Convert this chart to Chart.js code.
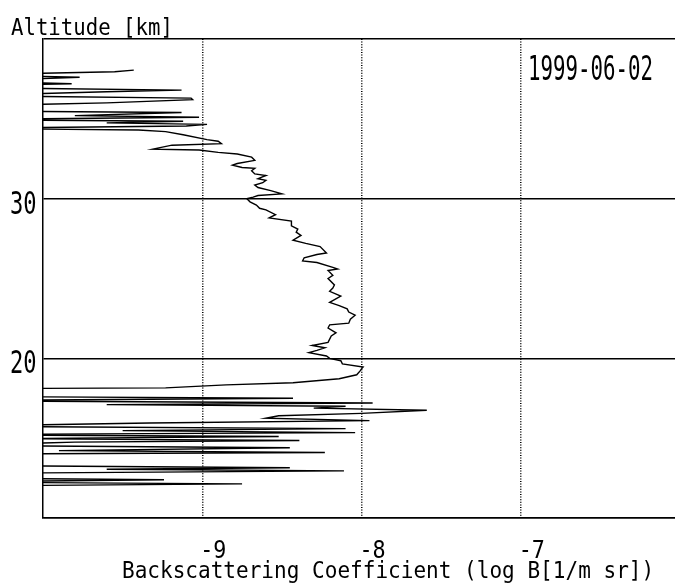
<!DOCTYPE html>
<html>
<head>
<meta charset="utf-8">
<script src="https://cdn.jsdelivr.net/npm/chart.js@4"></script>
<style>
  html, body { margin:0; padding:0; background:#fff; overflow:hidden; width:675px; height:585px; }
  canvas { display:block; }
</style>
</head>
<body>
<canvas id="profileChart" width="690" height="585"></canvas>
<script>
// altitude [km], bottom to top
const altitudes = [
  12.00, 12.14, 12.25, 12.40, 12.50, 12.80, 12.95, 13.05, 13.15, 13.30,
  14.00, 14.10, 14.22, 14.40, 14.55, 14.75, 14.85, 14.97, 15.10, 15.22,
  15.35, 15.47, 15.60, 15.75, 15.95, 16.10, 16.25, 16.40, 16.55, 16.75,
  16.88, 17.00, 17.10, 17.20, 17.35, 17.50, 17.62, 18.10, 18.15, 18.34,
  18.47, 18.72, 18.97, 19.20, 19.34, 19.45, 19.65, 19.85, 20.00, 20.15,
  20.36, 20.50, 20.66, 20.80, 21.00, 21.40, 21.60, 21.90, 22.10, 22.20,
  22.45, 22.70, 22.90, 23.10, 23.30, 23.50, 23.90, 24.20, 24.40, 24.60,
  25.00, 25.20, 25.50, 25.60, 25.70, 26.00, 26.10, 26.30, 26.50, 26.60,
  27.00, 27.20, 27.40, 27.70, 27.90, 28.10, 28.30, 28.60, 28.80, 29.00,
  29.30, 29.40, 29.60, 29.80, 30.00, 30.10, 30.20, 30.30, 30.50, 30.70,
  30.85, 31.00, 31.15, 31.25, 31.45, 31.55, 31.75, 31.90, 31.95, 32.10,
  32.20, 32.40, 32.60, 32.80, 32.90, 33.05, 33.10, 33.35, 33.45, 33.60,
  33.70, 34.00, 34.20, 34.30, 34.40, 34.55, 34.65, 34.75, 34.85, 34.95,
  35.10, 35.20, 35.40, 35.50, 35.80, 36.00, 36.20, 36.30, 36.45, 36.70,
  36.80, 36.95, 37.10, 37.20, 37.35, 37.60, 37.75, 37.95, 38.05
];
// log B [1/m sr]
const logB = [
  -10.6, -8.75, -10.6, -9.24, -10.6, -10.4, -8.11, -9.60, -8.45, -10.6,
  -10.6, -8.23, -9.90, -8.45, -10.6, -9.80, -8.39, -10.2, -8.52, -10.6,
  -8.04, -9.50, -8.10, -10.6, -9.33, -7.95, -8.60, -8.52, -8.00, -7.59,
  -8.30, -8.10, -9.60, -7.93, -10.6, -8.43, -10.6, -10.5, -9.23, -8.85,
  -8.43, -8.14, -8.03, -8.01, -8.00, -7.99, -8.12, -8.13, -8.20, -8.22,
  -8.33, -8.28, -8.23, -8.31, -8.21, -8.19, -8.16, -8.21, -8.20, -8.08,
  -8.07, -8.04, -8.08, -8.09, -8.14, -8.20, -8.13, -8.20, -8.18, -8.17,
  -8.21, -8.18, -8.21, -8.15, -8.18, -8.28, -8.37, -8.36, -8.28, -8.22,
  -8.26, -8.35, -8.43, -8.38, -8.41, -8.40, -8.44, -8.44, -8.58, -8.54,
  -8.60, -8.64, -8.66, -8.70, -8.72, -8.68, -8.65, -8.50, -8.57, -8.65,
  -8.67, -8.62, -8.60, -8.65, -8.60, -8.67, -8.69, -8.67, -8.75, -8.81,
  -8.78, -8.67, -8.69, -8.78, -8.90, -9.02, -9.31, -9.19, -8.88, -8.90,
  -8.97, -9.12, -9.23, -9.40, -10.5, -9.10, -8.97, -9.60, -9.12, -10.5,
  -9.02, -9.80, -9.13, -10.5, -10.5, -9.60, -9.06, -9.07, -10.5, -9.60,
  -9.13, -10.5, -10.3, -9.82, -10.5, -9.77, -10.5, -9.55, -9.43
];

const xTicks = [-9, -8, -7];
const yTicks = [20, 30];
const yFrame = [10, 20, 30, 40];
const dateLabel = '1999-06-02';
const yTitle = 'Altitude [km]';
const xTitle = 'Backscattering Coefficient (log B[1/m sr])';

const points = altitudes.map((a, i) => ({x: logB[i], y: a}));

// narrow plotter-like text: monospace font squeezed horizontally
function drawText(ctx, str, x, y, size, sx){
  ctx.save();
  ctx.translate(x, y);
  ctx.scale(sx, 1);
  ctx.font = size + 'px "DejaVu Sans Mono"';
  ctx.fillStyle = '#000';
  ctx.textBaseline = 'alphabetic';
  ctx.textAlign = 'left';
  ctx.fillText(str, 0, 0);
  ctx.restore();
}

const labelsPlugin = {
  id: 'labels',
  afterDraw(chart){
    const ctx = chart.ctx;
    const xs = chart.scales.x, ys = chart.scales.y;
    drawText(ctx, yTitle, 11, 35, 23.5, 0.88);
    yTicks.forEach(v => drawText(ctx, String(v), 10, ys.getPixelForValue(v) + 15, 31.5, 0.7));
    xTicks.forEach(v => drawText(ctx, String(v), xs.getPixelForValue(v) - 2, 558, 25, 0.87));
    drawText(ctx, xTitle, 122, 578, 23, 0.915);
    drawText(ctx, dateLabel, 528, 80, 34.3, 0.605);
  }
};

new Chart(document.getElementById('profileChart'), {
  type: 'scatter',
  data: {
    datasets: [{
      data: points,
      showLine: true,
      borderColor: '#000',
      borderWidth: 1.4,
      pointRadius: 0,
      tension: 0
    }]
  },
  options: {
    responsive: false,
    animation: false,
    layout: { padding: { left: 43, top: 39, right: 10, bottom: 67 } },
    plugins: { legend: { display: false }, tooltip: { enabled: false } },
    scales: {
      x: {
        type: 'linear', min: -10, max: -6,
        afterBuildTicks: s => { s.ticks = xTicks.map(v => ({value: v})); },
        ticks: { display: false },
        grid: { color: '#000', lineWidth: 1.5, drawTicks: false },
        border: { color: '#000', width: 1.5, dash: c => (c.tick ? [1, 1.6] : []) }
      },
      y: {
        type: 'linear', min: 10, max: 40,
        afterBuildTicks: s => { s.ticks = yFrame.map(v => ({value: v})); },
        ticks: { display: false },
        grid: { color: '#000', lineWidth: 1.4, drawTicks: false },
        border: { color: '#000', width: 1.5 }
      }
    }
  },
  plugins: [labelsPlugin]
});
</script>
</body>
</html>
